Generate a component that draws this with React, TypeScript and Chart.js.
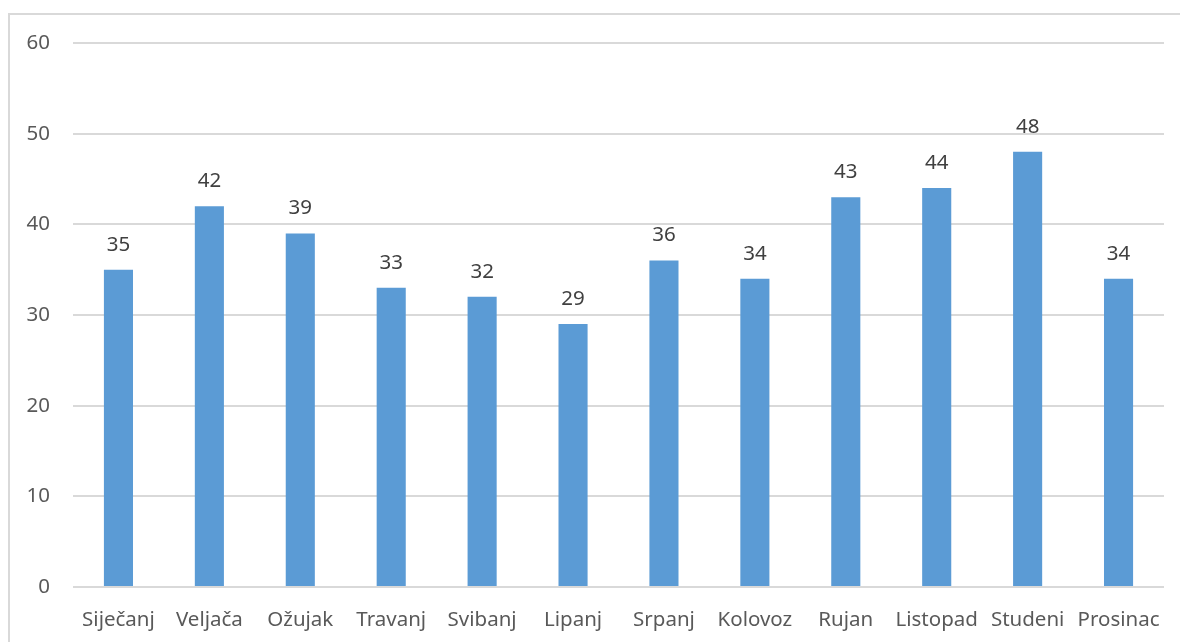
import React, { useEffect, useRef } from "react";
import { Chart, registerables } from "chart.js";

Chart.register(...registerables);

const months = ["Siječanj", "Veljača", "Ožujak", "Travanj", "Svibanj", "Lipanj", "Srpanj", "Kolovoz", "Rujan", "Listopad", "Studeni", "Prosinac"];
const values = [35, 42, 39, 33, 32, 29, 36, 34, 43, 44, 48, 34];
const yMin = 0;
const yMax = 60;
const yStep = 10;

const FONT = "'Noto Sans', 'Open Sans', sans-serif";
const TEXT = "#595959";

const borderPlugin = {
  id: "outerBorder",
  beforeDraw(chart: any) {
    const ctx = chart.ctx;
    ctx.save();
    ctx.strokeStyle = "#d9d9d9";
    ctx.lineWidth = 2;
    ctx.beginPath();
    ctx.moveTo(9, 700);
    ctx.lineTo(9, 14);
    ctx.lineTo(1200, 14);
    ctx.stroke();
    ctx.restore();
  },
};

const labelPlugin = {
  id: "valueLabels",
  afterDatasetsDraw(chart: any) {
    const ctx = chart.ctx;
    const meta = chart.getDatasetMeta(0);
    ctx.save();
    ctx.font = `20.5px ${FONT}`;
    ctx.fillStyle = "#404040";
    ctx.textAlign = "center";
    ctx.textBaseline = "middle";
    meta.data.forEach((bar: any, i: number) => {
      ctx.fillText(String(chart.data.datasets[0].data[i]), bar.x, bar.y - 25);
    });
    ctx.restore();
  },
};

export default function App() {
  const ref = useRef<HTMLCanvasElement | null>(null);
  useEffect(() => {
    if (!ref.current) return;
    const chart = new Chart(ref.current, {
      type: "bar",
      data: {
        labels: months,
        datasets: [
          {
            data: values,
            backgroundColor: "#5b9bd5",
            barPercentage: 0.64,
            categoryPercentage: 0.5,
          },
        ],
      },
      options: {
        animation: false,
        responsive: true,
        maintainAspectRatio: false,
        layout: { padding: { top: 43, right: 16, left: 0, bottom: 0 } },
        plugins: { legend: { display: false }, tooltip: { enabled: false } },
        scales: {
          x: {
            grid: { display: false },
            border: { display: false },
            ticks: { color: TEXT, font: { family: FONT, size: 20.5 }, padding: 13, maxRotation: 0, autoSkip: false },
            afterFit: (s: any) => { s.height = 55; },
          },
          y: {
            min: yMin,
            max: yMax,
            grid: { color: "#d9d9d9", lineWidth: 2, drawTicks: false },
            border: { display: false },
            ticks: { stepSize: yStep, color: TEXT, font: { family: FONT, size: 20.5 }, padding: 23 },
            afterFit: (s: any) => { s.width = 73; },
          },
        },
      },
      plugins: [borderPlugin, labelPlugin],
    });
    return () => chart.destroy();
  }, []);
  return (
    <div style={{ position: "absolute", left: 0, top: 0, width: 1180, height: 642 }}>
      <canvas ref={ref} />
    </div>
  );
}
